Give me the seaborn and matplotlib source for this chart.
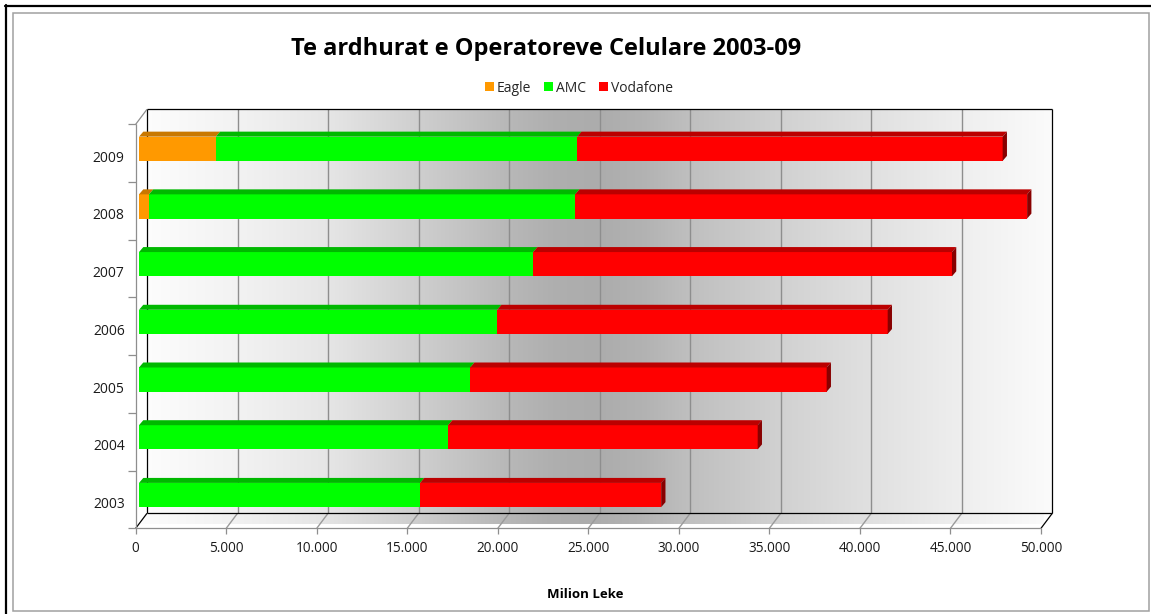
import numpy as np
import pandas as pd
import matplotlib.pyplot as plt
from matplotlib.patches import Polygon, Patch, Rectangle
from matplotlib.lines import Line2D
import seaborn as sns

years = ["2009", "2008", "2007", "2006", "2005", "2004", "2003"]
eagle = [4240, 550, 0, 0, 0, 0, 0]
amc = [19960, 23540, 21770, 19780, 18290, 17070, 15520]
vodafone = [23500, 24960, 23130, 21570, 19690, 17100, 13320]
operators = ["Eagle", "AMC", "Vodafone"]
x_ticks = list(range(0, 50001, 5000))

front_colors = ["#FF9900", "#00FF00", "#FF0000"]
top_colors = ["#C97800", "#00B800", "#BB0000"]
side_color = "#880000"

W, H = 1151, 614
sns.set_theme(style="white")
plt.rcParams["font.family"] = ["Open Sans", "DejaVu Sans"]

fig = plt.figure(figsize=(W / 100, H / 100), dpi=100, facecolor="white")
ax = fig.add_axes([139 / W, 1 - 523.9 / H, 905.3 / W, 404 / H])

df = pd.DataFrame({"year": years, "Eagle": eagle, "AMC": amc, "Vodafone": vodafone})
df["cum_eagle"] = df["Eagle"]
df["cum_amc"] = df["cum_eagle"] + df["AMC"]
df["cum_voda"] = df["cum_amc"] + df["Vodafone"]

bar_h = 0.42
# stacked bars: totals first, smaller cumulative sums on top
for col, c in [("cum_voda", front_colors[2]), ("cum_amc", front_colors[1]),
               ("cum_eagle", front_colors[0])]:
    sns.barplot(data=df, x=col, y="year", order=years, color=c, saturation=1,
                width=bar_h, linewidth=0, errorbar=None, zorder=4, ax=ax)

# pixel offsets for the fake 3d planes (dx right, dy up)
kx = 50000 / 905.3
ky = 7 / 404
FRONT = (-3.3, -4.4)
BACK = (8.0, 10.6)
DEPTH = (4.3, 5.0)


def P(x, y, off=(0, 0)):
    return (x + off[0] * kx, y - off[1] * ky)


def seg(p, q, color, lw=1.0, z=2):
    ax.plot([p[0], q[0]], [p[1], q[1]], color=color, lw=lw, zorder=z,
            clip_on=False, solid_capstyle="butt")


# background gradient (wall + floor)
stops_x = [0, 5000, 10000, 15000, 20000, 22500, 25000, 27500, 30000, 35000, 40000, 45000, 50000]
stops_g = [0.99, 0.95, 0.90, 0.81, 0.72, 0.685, 0.675, 0.70, 0.75, 0.82, 0.88, 0.935, 0.985]
grad = np.interp(np.linspace(0, 50000, 400), stops_x, stops_g)
img = np.dstack([grad, grad, grad])

bx0, by0 = P(0, 6.5, BACK)
bx1, by1 = P(50000, -0.5, BACK)
ax.imshow(img, extent=(bx0, bx1, by0, by1), aspect="auto", zorder=0,
          interpolation="bilinear", clip_on=False)

floor_pts = [P(0, 6.5, FRONT), P(50000, 6.5, FRONT), P(50000, 6.5, BACK), P(0, 6.5, BACK)]
floor_img = ax.imshow(img, extent=(floor_pts[0][0], floor_pts[2][0], floor_pts[0][1], floor_pts[2][1]),
                      aspect="auto", zorder=0, interpolation="bilinear")
clip = Polygon(floor_pts, closed=True, transform=ax.transData)
floor_img.set_clip_path(clip)

# gridlines on wall and floor
for v in x_ticks[1:-1]:
    seg(P(v, -0.5, BACK), P(v, 6.5, BACK), "#8e8e8e", 1.0, 1)
    seg(P(v, 6.5, BACK), P(v, 6.5, FRONT), "#9a9a9a", 1.0, 1)

# wall and floor edges
seg(P(0, -0.5, BACK), P(50000, -0.5, BACK), "black", 0.9)
seg(P(0, -0.5, BACK), P(0, 6.5, BACK), "black", 0.9)
seg(P(50000, -0.5, BACK), P(50000, 6.5, BACK), "black", 0.9)
seg(P(0, 6.5, BACK), P(50000, 6.5, BACK), "black", 0.9)
seg(P(0, 6.5, FRONT), P(0, 6.5, BACK), "black", 0.9)
seg(P(50000, 6.5, FRONT), P(50000, 6.5, BACK), "black", 0.9)
seg(P(0, -0.5, FRONT), P(0, -0.5, BACK), "#8e8e8e", 0.9)
seg(P(0, -0.5, FRONT), P(0, 6.5, FRONT), "#8e8e8e", 0.9)
seg(P(0, 6.5, FRONT), P(50000, 6.5, FRONT), "#8e8e8e", 0.9)

# ticks and tick labels
for b in np.arange(-0.5, 7, 1):
    seg(P(0, b, FRONT), P(0, b, (FRONT[0] - 8, FRONT[1])), "#8e8e8e", 0.9)
for v in x_ticks:
    seg(P(v, 6.5, FRONT), P(v, 6.5, (FRONT[0], FRONT[1] - 6)), "#8e8e8e", 0.9)
    ax.text(*P(v, 6.5, (FRONT[0], FRONT[1] - 20)), f"{v:,}".replace(",", "."),
            ha="center", va="center", fontsize=9.8, color="#1a1a1a")
for i, yr in enumerate(years):
    ax.text(*P(0, i, (FRONT[0] - 11, FRONT[1] - 5)), yr,
            ha="right", va="center", fontsize=10, color="#1a1a1a")

# top and side faces of the bars
for i in range(len(years)):
    left = 0
    yt = i - bar_h / 2
    yb = i + bar_h / 2
    for k, w in enumerate([eagle[i], amc[i], vodafone[i]]):
        if w <= 0:
            continue
        top = [P(left, yt), P(left + w, yt), P(left + w, yt, DEPTH), P(left, yt, DEPTH)]
        ax.add_patch(Polygon(top, closed=True, fc=top_colors[k], ec="none",
                             zorder=5, clip_on=False))
        left += w
    side = [P(left, yt), P(left, yb), P(left, yb, DEPTH), P(left, yt, DEPTH)]
    ax.add_patch(Polygon(side, closed=True, fc=side_color, ec="none",
                         zorder=5, clip_on=False))

ax.set_xlim(0, 50000)
ax.set_ylim(6.5, -0.5)
ax.axis("off")

fig.text(546 / W, 1 - 49 / H, "Te ardhurat e Operatoreve Celulare 2003-09",
         ha="center", va="center", fontsize=17, fontweight="bold", color="black")
fig.text(585 / W, 1 - 595 / H, "Milion Leke", ha="center", va="center",
         fontsize=9.5, fontweight="bold", color="black")

handles = [Patch(fc=c, ec="none", label=n) for c, n in zip(front_colors, operators)]
fig.legend(handles=handles, loc="center", bbox_to_anchor=(579 / W, 1 - 88 / H),
           ncol=3, frameon=False, fontsize=10, handlelength=0.65, handleheight=0.65,
           handletextpad=0.25, columnspacing=0.9, borderaxespad=0, borderpad=0)

# outer frame
fig.add_artist(Line2D([5 / W, 1], [1 - 6 / H] * 2, transform=fig.transFigure, color="black", lw=1.6))
fig.add_artist(Line2D([6 / W] * 2, [0, 1 - 5 / H], transform=fig.transFigure, color="black", lw=1.6))
fig.add_artist(Rectangle((13 / W, 1 - 611 / H), (1149 - 13) / W, (611 - 12.5) / H,
                         fill=False, ec="#a0a0a0", lw=1.1, transform=fig.transFigure))

fig.savefig("out.png", dpi=100)
